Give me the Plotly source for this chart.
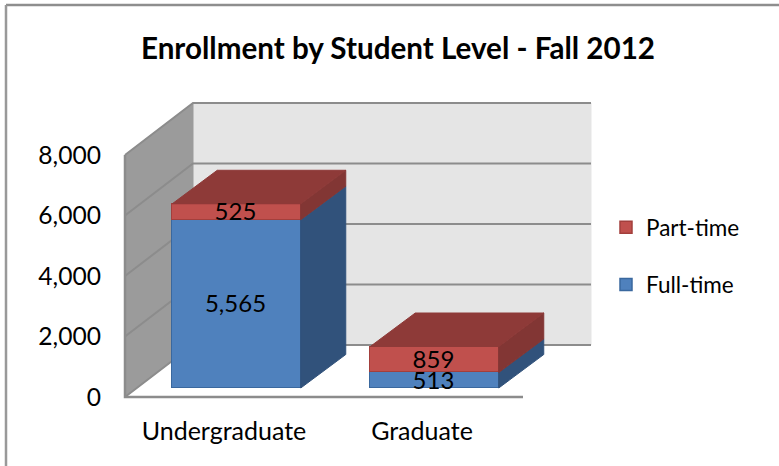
import plotly.graph_objects as go

categories = ["Undergraduate", "Graduate"]
full_time = [5565, 513]
part_time = [525, 859]
tick_values = [0, 2000, 4000, 6000, 8000]
tick_labels = ["0", "2,000", "4,000", "6,000", "8,000"]
title = "Enrollment by Student Level - Fall 2012"

W, H = 779, 466
FONT = "Lato"
BLUE, BLUE_SIDE, BLUE_EDGE = "#4F81BD", "#31527B", "#3A689E"
RED, RED_SIDE, RED_TOP, RED_EDGE = "#C0504D", "#823634", "#8E3A38", "#A33F3C"
WALL_L, WALL_B, GRID = "#9B9B9B", "#E5E5E5", "#8C8C8C"

KY = 242 / 8000          # px per value
KX = 198                 # px per category step
X0_PX, Y0_PX = 224, 397  # front plane origin
BAR_DX, BAR_DY = 12.5, 9   # bar plane shift from the front plane
DEPTH_X, DEPTH_Y = 45, 33.5   # bar depth
WALL_X, WALL_Y = 68, 52       # wall depth
BAR_W = 128.5 / KX
LABEL_NUDGE_X, LABEL_NUDGE_Y = -1, 2.5  # px, right and down

def fx(px):
    return (px - X0_PX) / KX

def dyv(px):
    return px / KY

fig = go.Figure()

def poly(xs, ys, color, xa="x", ya="y", line=None):
    fig.add_trace(go.Scatter(x=xs, y=ys, xaxis=xa, yaxis=ya, mode="lines", fill="toself",
                             fillcolor=color, line=dict(color=line or color, width=1),
                             hoverinfo="skip", showlegend=False))

# walls, in the front-plane axes
x_l, x_r = fx(125), fx(523)
wx, wy = WALL_X / KX, dyv(WALL_Y)
top = tick_values[-1]
poly([x_l + wx, x_r + wx, x_r + wx, x_l + wx, x_l + wx], [0 + wy, wy, top + wy, top + wy, wy], WALL_B)
poly([x_l, x_l + wx, x_l + wx, x_l, x_l], [0, wy, top + wy, top, 0], WALL_L)

gx, gy = [], []
for v in tick_values:
    gx += [x_l, x_l + wx, x_r + wx, None]
    gy += [v, v + wy, v + wy, None]
fig.add_trace(go.Scatter(x=gx, y=gy, mode="lines", line=dict(color=GRID, width=2),
                         hoverinfo="skip", showlegend=False))
fig.add_trace(go.Scatter(x=[x_l, x_l, x_r], y=[top, 0, 0], mode="lines",
                         line=dict(color=GRID, width=2.5), hoverinfo="skip", showlegend=False))

# stacked fronts
idx = list(range(len(categories)))
fig.add_trace(go.Bar(x=idx, y=full_time, name="Full-time", width=BAR_W, xaxis="x2", yaxis="y2",
                     marker=dict(color=BLUE, line=dict(color=BLUE_EDGE, width=1.5)), hoverinfo="skip",
                     legendgroup="a", legendrank=2))
fig.add_trace(go.Bar(x=idx, y=part_time, name="Part-time", width=BAR_W, xaxis="x2", yaxis="y2",
                     marker=dict(color=RED, line=dict(color=RED_EDGE, width=1.5)), hoverinfo="skip",
                     legendgroup="b", legendrank=1))

# depth faces, computed from the values
dx, dy = DEPTH_X / KX, dyv(DEPTH_Y)
for i in idx:
    r = i + BAR_W / 2
    l = i - BAR_W / 2
    f, t = full_time[i], full_time[i] + part_time[i]
    poly([r, r + dx, r + dx, r, r], [0, dy, f + dy, f, 0], BLUE_SIDE, "x2", "y2")
    poly([r, r + dx, r + dx, r, r], [f, f + dy, t + dy, t, f], RED_SIDE, "x2", "y2")
    poly([l, l + dx, r + dx, r, l], [t, t + dy, t + dy, t, t], RED_TOP, "x2", "y2")

# value labels
lx, ly, lt = [], [], []
for i in idx:
    lx += [i + LABEL_NUDGE_X / KX] * 2
    ly += [full_time[i] / 2 - dyv(LABEL_NUDGE_Y), full_time[i] + part_time[i] / 2 - dyv(LABEL_NUDGE_Y)]
    lt += [f"{full_time[i]:,}", f"{part_time[i]:,}"]
fig.add_trace(go.Scatter(x=lx, y=ly, text=lt, mode="text", xaxis="x2", yaxis="y2",
                         textposition="middle center",
                         textfont=dict(family=FONT, size=24, color="black"),
                         hoverinfo="skip", showlegend=False, cliponaxis=False))

x_range = [fx(0), fx(W)]
fig.update_layout(
    width=W, height=H, autosize=False,
    margin=dict(l=0, r=0, t=0, b=0),
    paper_bgcolor="white", plot_bgcolor="white",
    barmode="stack", bargap=0,
    font=dict(family=FONT, color="black"),
    title=dict(text=f"<b>{title}</b>", x=398 / W, xanchor="center", y=1 - 49 / H, yanchor="middle",
               font=dict(family=FONT, size=29.6, color="black")),
    xaxis=dict(range=x_range, tickvals=idx, ticktext=categories, anchor="free",
               position=(H - Y0_PX) / H, showgrid=False, zeroline=False, ticks="",
               ticklabelstandoff=17, tickfont=dict(family=FONT, size=25, color="black")),
    xaxis2=dict(range=[x_range[0] - BAR_DX / KX, x_range[1] - BAR_DX / KX], overlaying="x", visible=False),
    yaxis=dict(range=[dyv(Y0_PX - H), dyv(Y0_PX)], tickvals=tick_values, ticktext=tick_labels,
               anchor="free", position=125 / W, showgrid=False, zeroline=False, ticks="",
               ticklabelstandoff=24, tickfont=dict(family=FONT, size=24.6, color="black")),
    yaxis2=dict(range=[dyv(Y0_PX - BAR_DY - H), dyv(Y0_PX - BAR_DY)], overlaying="y", visible=False),
    legend=dict(x=606 / W, y=1 - 206 / H, xanchor="left", yanchor="top", traceorder="grouped",
                tracegroupgap=25, bgcolor="rgba(0,0,0,0)",
                font=dict(family=FONT, size=22.5, color="black")),
    shapes=[
        dict(type="line", xref="paper", yref="paper", x0=6 / W, x1=1, y0=1 - 5 / H, y1=1 - 5 / H,
             line=dict(color="#8E8E8E", width=2.5)),
        dict(type="line", xref="paper", yref="paper", x0=6 / W, x1=6 / W, y0=0, y1=1 - 5 / H,
             line=dict(color="#999999", width=2.5)),
    ],
)
fig.write_html("out.html", config={"displayModeBar": False},
               post_script="document.body.style.margin='0';document.body.style.overflow='hidden';")
